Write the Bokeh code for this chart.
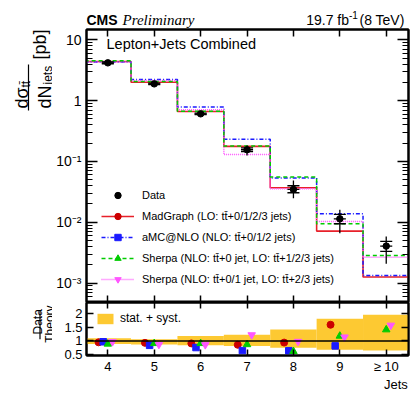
import numpy as np
from bokeh.plotting import figure
from bokeh.models import (Label, Legend, LegendItem, FixedTicker, LinearAxis, LogAxis,
                          Span, Range1d, CustomJSTickFormatter)
from bokeh.core.properties import value
from bokeh.layouts import gridplot
from bokeh.embed import file_html
from bokeh.resources import INLINE

# ---------------- data ----------------
jets = [4, 5, 6, 7, 8, 9, 10]
jet_labels = ["4", "5", "6", "7", "8", "9", "\u2265 10"]

data_xsec = [4.19, 1.89, 0.608, 0.156, 0.0347, 0.0114, 0.00406]
stat_lo = [4.05, 1.84, 0.590, 0.145, 0.0306, 0.00946, 0.00332]
stat_hi = [4.33, 1.94, 0.625, 0.168, 0.0399, 0.0135, 0.00484]
tot_lo = [3.90, 1.76, 0.565, 0.126, 0.0249, 0.00663, 0.00208]
tot_hi = [4.50, 2.03, 0.655, 0.183, 0.0488, 0.0161, 0.00585]

madgraph = [4.40, 2.01, 0.664, 0.177, 0.0370, 0.00716, 0.00126]
amcnlo = [4.32, 2.22, 0.790, 0.232, 0.0536, 0.0138, 0.00134]
sherpa_a = [4.55, 2.06, 0.668, 0.179, 0.0555, 0.00946, 0.00285]
sherpa_b = [4.32, 2.14, 0.710, 0.130, 0.0356, 0.0103, 0.00267]

ratio_mg = [0.95, 0.93, 0.91, 0.86, 0.94, 1.59, 3.2]
ratio_amc = [0.97, 0.84, 0.76, 0.65, 0.645, 0.82, 3.0]
ratio_sha = [0.89, 0.91, 0.91, 0.87, 0.62, 1.18, 1.41]
ratio_shb = [0.97, 0.87, 0.86, 1.22, 0.98, 1.14, 1.57]

band_lo = [0.89, 0.87, 0.84, 0.82, 0.75, 0.68, 0.65]
band_hi = [1.10, 1.06, 1.18, 1.23, 1.42, 1.81, 1.95]

y_decades = [1e-3, 1e-2, 1e-1, 1, 10]
y_dec_labels = ["10\u207b\u00b3", "10\u207b\u00b2", "10\u207b\u00b9", "1", "10"]
ratio_ticks = [0.5, 1, 1.5, 2]
ratio_tick_labels = ["0.5", "1", "1.5", "2"]

labels_mc = ["MadGraph (LO: tt\u0304+0/1/2/3 jets)",
             "aMC@NLO (NLO: tt\u0304+0/1/2 jets)",
             "Sherpa (NLO: tt\u0304+0 jet, LO: tt\u0304+1/2/3 jets)",
             "Sherpa (NLO: tt\u0304+0/1 jet, LO: tt\u0304+2/3 jets)"]

# ---------------- style ----------------
FONT = "Liberation Sans"
C_MG_LINE, C_MG = "#e8202a", "#cc0000"
C_AMC = "#1a1aff"
C_SHA = "#00cc00"
C_SHB = "#ff55ff"
BAND = "#fdc932"

jets_a = np.array(jets, dtype=float)
edges = np.append(jets_a - 0.5, jets_a[-1] + 0.5)

def stepy(v):
    return np.append(np.array(v, dtype=float), v[-1])

blank = CustomJSTickFormatter(code="return ''")

def style_axis(ax, tick_in, minor_in=0, show=False, size="14px", standoff=4):
    ax.axis_line_color = "black"
    ax.axis_line_width = 2
    ax.major_tick_in = tick_in
    ax.major_tick_out = 0
    ax.minor_tick_in = minor_in
    ax.minor_tick_out = 0
    ax.major_tick_line_width = 1.5
    ax.minor_tick_line_width = 1.2
    ax.major_tick_line_color = "black"
    ax.minor_tick_line_color = "black"
    if show:
        ax.major_label_text_font = FONT
        ax.major_label_text_font_size = size
        ax.major_label_text_color = "black"
        ax.major_label_standoff = standoff
    else:
        ax.formatter = blank
        ax.major_label_text_font_size = "0px"
        ax.major_label_standoff = 0

def text_fig(w, h, xr, yr, left=0, right=0, top=0, bottom=0):
    f = figure(width=w, height=h, x_range=Range1d(0, xr), y_range=Range1d(0, yr),
               output_backend="svg", toolbar_location=None,
               min_border_left=left, min_border_right=right,
               min_border_top=top, min_border_bottom=bottom,
               x_axis_location=None, y_axis_location=None)
    f.grid.visible = False
    f.outline_line_color = None
    f.background_fill_color = "white"
    f.border_fill_color = "white"
    return f

def lab(fig, text, x, y, size, align="left", style="normal", font=FONT):
    fig.add_layout(Label(x=x, y=y, x_units="screen", y_units="screen", text=text,
                         text_font=font, text_font_size=size, text_font_style=style,
                         text_align=align, text_baseline="alphabetic", text_color="black"))

def vtext(fig, texts, xs, ys, size, align="left"):
    fig.text(x=xs, y=ys, text=texts, angle=np.pi / 2, text_font=value(FONT),
             text_font_size=value(size), text_align=value(align),
             text_baseline=value("alphabetic"), text_color="black")

x_range = Range1d(3.54, 10.48)

# ---------------- upper panel ----------------
p = figure(width=359, height=274, x_range=x_range, y_range=Range1d(4.8e-4, 14.8),
           y_axis_type="log", output_backend="svg", toolbar_location=None,
           min_border_left=34, min_border_right=3, min_border_top=1, min_border_bottom=0)
p.xgrid.visible = False
p.ygrid.visible = False
p.outline_line_color = "black"
p.outline_line_width = 2
p.background_fill_color = "white"
p.border_fill_color = "white"

minors = [m * 10.0 ** e for e in range(-4, 2) for m in range(2, 10)]
yt = FixedTicker(ticks=y_decades, minor_ticks=minors)
xt = FixedTicker(ticks=jets, minor_ticks=[])

p.xaxis[0].ticker = xt
style_axis(p.xaxis[0], 7)
p.yaxis[0].ticker = yt
style_axis(p.yaxis[0], 11, 6, show=True, size="14px", standoff=5)
p.yaxis[0].major_label_overrides = {v: s for v, s in zip(y_decades, y_dec_labels)}
ax_top = LinearAxis(ticker=xt)
style_axis(ax_top, 7)
p.add_layout(ax_top, "above")
ax_r = LogAxis(ticker=yt)
style_axis(ax_r, 11, 6)
p.add_layout(ax_r, "right")

mg_r = p.step(edges, stepy(madgraph), mode="after", line_color=C_MG_LINE, line_width=1.6)
amc_r = p.step(edges, stepy(amcnlo), mode="after", line_color=C_AMC, line_width=1.5, line_dash="4 2 1 2")
shb_r = p.step(edges, stepy(sherpa_b), mode="after", line_color=C_SHB, line_width=1.5, line_dash="1 1")
sha_r = p.step(edges, stepy(sherpa_a), mode="after", line_color=C_SHA, line_width=1.5, line_dash="4 3")

hw = 0.13
p.segment(jets_a, tot_lo, jets_a, tot_hi, line_color="black", line_width=1.3)
p.segment(jets_a - hw, data_xsec, jets_a + hw, data_xsec, line_color="black", line_width=1.3)
p.segment(jets_a - hw, stat_lo, jets_a + hw, stat_lo, line_color="black", line_width=1.3)
p.segment(jets_a - hw, stat_hi, jets_a + hw, stat_hi, line_color="black", line_width=1.3)
data_r = p.scatter(jets_a, data_xsec, marker="circle", size=6.5, color="black")

# zero-size markers: only their legend glyphs are visible
mg_m = p.scatter(jets_a, madgraph, marker="circle", size=0, color=C_MG)
amc_m = p.scatter(jets_a, amcnlo, marker="square", size=0, color=C_AMC)
sha_m = p.scatter(jets_a, sherpa_a, marker="triangle", size=0, color=C_SHA)
shb_m = p.scatter(jets_a, sherpa_b, marker="inverted_triangle", size=0, color=C_SHB)

leg = Legend(items=[
    LegendItem(label="Data", renderers=[data_r]),
    LegendItem(label=labels_mc[0], renderers=[mg_r, mg_m]),
    LegendItem(label=labels_mc[1], renderers=[amc_r, amc_m]),
    LegendItem(label=labels_mc[2], renderers=[sha_r, sha_m]),
    LegendItem(label=labels_mc[3], renderers=[shb_r, shb_m]),
], location="bottom_left", orientation="vertical", padding=0, margin=15, spacing=5,
    glyph_width=33, glyph_height=16, label_height=16, label_standoff=8,
    label_text_font=FONT, label_text_font_size="11px", label_text_color="black",
    border_line_color=None, background_fill_alpha=0)
p.add_layout(leg)

p.add_layout(Label(x=20, y=251, x_units="screen", y_units="screen",
                   text="Lepton+Jets Combined", text_font=FONT, text_font_size="14.5px",
                   text_color="black"))

# ---------------- lower panel ----------------
q = figure(width=359, height=92, x_range=x_range, y_range=Range1d(0.47, 2.4),
           output_backend="svg", toolbar_location=None,
           min_border_left=34, min_border_right=3, min_border_top=0, min_border_bottom=33)
q.xgrid.visible = False
q.ygrid.visible = False
q.outline_line_color = "black"
q.outline_line_width = 2
q.background_fill_color = "white"
q.border_fill_color = "white"

xb = q.xaxis[0]
xb.ticker = xt
style_axis(xb, 6, show=True, size="13px", standoff=3)
xb.major_label_overrides = {j: t for j, t in zip(jets, jet_labels)}
# label centred on the axis end; non-breaking spaces push the word left of the edge
xb.axis_label = "Jets" + "\u00a0" * 7
xb.axis_label_standoff = 0
xb.axis_label_text_font = FONT
xb.axis_label_text_font_size = "13px"
xb.axis_label_text_font_style = "normal"
xb.axis_label_text_color = "black"
try:
    xb.axis_label_align = "end"
except Exception:
    pass

rt = FixedTicker(ticks=ratio_ticks, minor_ticks=[])
q.yaxis[0].ticker = rt
style_axis(q.yaxis[0], 7, show=True, size="13px", standoff=4)
q.yaxis[0].major_label_overrides = {t: s for t, s in zip(ratio_ticks, ratio_tick_labels)}
qa_top = LinearAxis(ticker=xt)
style_axis(qa_top, 6)
q.add_layout(qa_top, "above")
qa_r = LinearAxis(ticker=rt)
style_axis(qa_r, 7)
q.add_layout(qa_r, "right")

band_r = q.quad(left=edges[:-1], right=edges[1:], bottom=band_lo, top=band_hi,
                fill_color=BAND, line_color=None)
q.add_layout(Span(location=1, dimension="width", line_color="black", line_width=1.5, level="glyph"))

q.scatter(jets_a - 0.2, ratio_mg, marker="circle", size=7, color=C_MG)
q.scatter(jets_a - 0.1, ratio_amc, marker="square", size=6.5, color=C_AMC)
q.scatter(jets_a, ratio_sha, marker="triangle", size=7.5, color=C_SHA)
q.scatter(jets_a + 0.1, ratio_shb, marker="inverted_triangle", size=7.5, color=C_SHB)

leg2 = Legend(items=[LegendItem(label="stat. + syst.", renderers=[band_r])],
              location="top_left", padding=0, margin=9, glyph_width=20, glyph_height=13,
              label_height=13, label_standoff=5, label_text_font=FONT,
              label_text_font_size="12px", label_text_color="black",
              border_line_color=None, background_fill_alpha=0)
q.add_layout(leg2)

# ---------------- header (frame = page x 86..408, y 0..28) ----------------
H = text_fig(359, 28, 1, 1, left=34, right=3)
lab(H, "CMS", 0, 8.7, "14px", style="bold")
lab(H, "Preliminary", 36, 8.7, "15px", style="italic", font="Liberation Serif")
lab(H, " (8 TeV)", 322, 8.7, "14px", align="right")
lab(H, "-1", 271.4, 13.5, "10px", align="right")
lab(H, "19.7 fb", 262.5, 8.7, "14px", align="right")

# ---------------- left titles (frame = page x 0..52, y 29..302; units = px) ----------------
L = text_fig(52, 274, 52, 273, top=1)
vtext(L, ["d\u03c3", "dN", "[pb]"], [21, 44, 39], [194, 194, 243], "18px")
vtext(L, ["tt\u0304", "jets"], [25, 47], [215, 218], "12px")
L.segment(x0=[28], y0=[192], x1=[28], y1=[238], line_color="black", line_width=1.2)

# ---------------- lower title (frame = page x 0..52, y 302..361; units = px) ----------------
L3 = text_fig(52, 92, 52, 59, bottom=33)
vtext(L3, ["Data", "Theory"], [37.5, 49], [37.5, 35], "12px", align="center")
L3.segment(x0=[39.5], y0=[18], x1=[39.5], y1=[50], line_color="black", line_width=1.2)

grid = gridplot([[None, H], [L, p], [L3, q]], toolbar_location=None)
open("out.html", "w").write(file_html(grid, INLINE))
